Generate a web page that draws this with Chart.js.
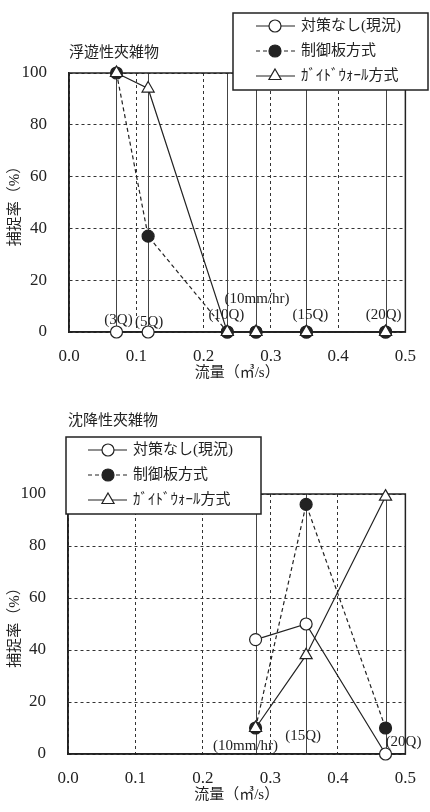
<!DOCTYPE html>
<html>
<head>
<meta charset="utf-8">
<script src="https://cdn.jsdelivr.net/npm/chart.js@4/dist/chart.umd.min.js"></script>
<style>
    body { margin: 0; background: #fff; }
    canvas { display: block; }
</style>
</head>
<body>
<canvas id="floatChart" width="430" height="400"></canvas>
<canvas id="sinkChart" width="430" height="412"></canvas>
<script>
// Capture rate vs flow — two panels

// Panel 1: floating debris
const floatFlow = [0.0706, 0.1176, 0.2353, 0.278, 0.3529, 0.4706];
const floatLabels = ['(3Q)', '(5Q)', '(10Q)', '(10mm/hr)', '(15Q)', '(20Q)'];
const floatNone = [0, 0, 0, 0, 0, 0];
const floatPlate = [100, 37, 0, 0, 0, 0];
const floatGuide = [100, 94, 0, 0, 0, 0];

// Panel 2: settling debris
const sinkFlow = [0.278, 0.3529, 0.4706];
const sinkLabels = ['(10mm/hr)', '(15Q)', '(20Q)'];
const sinkNone = [44, 50, 0];
const sinkPlate = [10, 96, 10];
const sinkGuide = [10, 38, 99];

const seriesNames = ['対策なし(現況)', '制御板方式', 'ｶﾞｲﾄﾞｳｫｰﾙ方式'];
const yAxisTitle = '捕捉率（%）';
const xAxisTitle = '流量（㎥/s）';

const FONT = "'Liberation Serif', 'Noto Sans CJK JP', serif";
const INK = '#222';

function toPoints(xs, ys) {
    return xs.map((x, i) => ({ x: x, y: ys[i] }));
}

function makeSeries(xs, none, plate, guide) {
    const base = {
        borderColor: INK,
        borderWidth: 1.2,
        pointBorderColor: INK,
        pointBorderWidth: 1.2,
        tension: 0,
        clip: false
    };
    return [
        { ...base, label: seriesNames[0], data: toPoints(xs, none),
          pointStyle: 'circle', pointRadius: 6, pointBackgroundColor: '#fff', order: 3 },
        { ...base, label: seriesNames[1], data: toPoints(xs, plate), borderDash: [4, 3],
          pointStyle: 'circle', pointRadius: 6, pointBackgroundColor: INK, order: 2 },
        { ...base, label: seriesNames[2], data: toPoints(xs, guide),
          pointStyle: 'triangle', pointRadius: 7, pointBackgroundColor: '#fff', order: 1 }
    ];
}

// titles, legend box, drop lines, flow labels
const decorPlugin = {
    id: 'decor',
    beforeDatasetsDraw(chart, args, opts) {
        const { ctx, chartArea } = chart;
        const xs = chart.scales.x;
        ctx.save();
        ctx.strokeStyle = '#444';
        ctx.lineWidth = 1;
        opts.dropX.forEach(v => {
            const px = Math.round(xs.getPixelForValue(v)) + 0.5;
            ctx.beginPath();
            ctx.moveTo(px, chartArea.top);
            ctx.lineTo(px, chartArea.bottom);
            ctx.stroke();
        });
        // solid frame
        ctx.strokeStyle = INK;
        ctx.lineWidth = 1.5;
        ctx.strokeRect(chartArea.left, chartArea.top, chartArea.right - chartArea.left, chartArea.bottom - chartArea.top);
        ctx.restore();
    },
    afterDatasetsDraw(chart, args, opts) {
        const { ctx } = chart;
        const xs = chart.scales.x, ys = chart.scales.y;
        ctx.save();
        ctx.fillStyle = INK;
        ctx.font = '15px ' + FONT;
        ctx.textAlign = 'center';
        ctx.textBaseline = 'middle';
        opts.labels.forEach((t, i) => {
            const off = opts.labelOffsets[i];
            ctx.fillText(t, xs.getPixelForValue(opts.labelX[i]) + off[0], ys.getPixelForValue(0) + off[1]);
        });
        ctx.restore();
    },
    afterDraw(chart, args, opts) {
        const { ctx, chartArea } = chart;
        ctx.save();
        // panel title
        ctx.fillStyle = INK;
        ctx.font = '15px ' + FONT;
        ctx.textAlign = 'left';
        ctx.textBaseline = 'middle';
        ctx.fillText(opts.title, chartArea.left, opts.titleY);

        // legend
        const lg = opts.legend;
        ctx.fillStyle = '#fff';
        ctx.fillRect(lg.x, lg.y, lg.w, lg.h);
        ctx.strokeStyle = INK;
        ctx.lineWidth = 1.5;
        ctx.strokeRect(lg.x, lg.y, lg.w, lg.h);
        chart.data.datasets.forEach((ds, i) => {
            const ry = lg.y + lg.rows[i];
            ctx.strokeStyle = INK;
            ctx.lineWidth = 1.2;
            ctx.setLineDash(ds.borderDash || []);
            ctx.beginPath();
            ctx.moveTo(lg.x + lg.lineFrom, ry);
            ctx.lineTo(lg.x + lg.lineTo, ry);
            ctx.stroke();
            ctx.setLineDash([]);
            ctx.fillStyle = ds.pointBackgroundColor;
            Chart.helpers.drawPoint(ctx, {
                pointStyle: ds.pointStyle,
                radius: ds.pointRadius,
                borderWidth: 1.2,
                rotation: 0
            }, lg.x + lg.marker, ry);
            ctx.fillStyle = INK;
            ctx.font = '15px ' + FONT;
            ctx.fillText(ds.label, lg.x + lg.textX, ry);
        });
        ctx.restore();
    }
};

function makeScales(yWidth) {
    const tickFont = { family: FONT, size: 17 };
    const titleFont = { family: FONT, size: 15 };
    return {
        x: {
            type: 'linear',
            min: 0,
            max: 0.5,
            ticks: { stepSize: 0.1, callback: v => v.toFixed(1), font: tickFont, color: INK, padding: 14, maxRotation: 0 },
            grid: { color: '#333', lineWidth: 1, drawTicks: false },
            border: { display: true, color: INK, width: 1.5, dash: [3, 3] },
            title: { display: true, text: xAxisTitle, font: titleFont, color: INK, padding: { top: 0, bottom: 0 } },
            afterFit: s => { s.height = 50; }
        },
        y: {
            min: 0,
            max: 100,
            ticks: { stepSize: 20, font: tickFont, color: INK, padding: 22 },
            grid: { color: '#333', lineWidth: 1, drawTicks: false },
            border: { display: true, color: INK, width: 1.5, dash: [3, 3] },
            title: { display: true, text: yAxisTitle, font: titleFont, color: INK, padding: { top: 6, bottom: 0 } },
            afterFit: s => { s.width = yWidth; }
        }
    };
}

function makeChart(id, datasets, layoutPad, yWidth, decor) {
    const ctx = document.getElementById(id).getContext('2d');
    return new Chart(ctx, {
        type: 'line',
        data: { datasets: datasets },
        options: {
            responsive: false,
            animation: false,
            devicePixelRatio: 1,
            layout: { padding: layoutPad },
            scales: makeScales(yWidth),
            plugins: {
                legend: { display: false },
                tooltip: { enabled: false },
                decor: decor
            }
        },
        plugins: [decorPlugin]
    });
}

makeChart('floatChart',
    makeSeries(floatFlow, floatNone, floatPlate, floatGuide),
    { top: 73, left: 0, right: 21, bottom: 18 }, 69,
    {
        title: '浮遊性夾雑物',
        titleY: 53,
        legend: { x: 233, y: 13, w: 195, h: 77, rows: [13, 38, 63], lineFrom: 23, lineTo: 62, marker: 42, textX: 68 },
        dropX: floatFlow,
        labels: floatLabels,
        labelX: floatFlow,
        labelOffsets: [[2, -12], [1, -10], [-1, -17], [1, -33], [4, -17], [-2, -17]]
    });

makeChart('sinkChart',
    makeSeries(sinkFlow, sinkNone, sinkPlate, sinkGuide),
    { top: 94, left: 0, right: 23, bottom: 8 }, 68,
    {
        title: '沈降性夾雑物',
        titleY: 21,
        legend: { x: 66, y: 37, w: 195, h: 77, rows: [13, 38, 63], lineFrom: 22, lineTo: 61, marker: 42, textX: 67 },
        dropX: sinkFlow,
        labels: sinkLabels,
        labelX: sinkFlow,
        labelOffsets: [[-10, -8], [-3, -18], [18, -12]]
    });
</script>
</body>
</html>
